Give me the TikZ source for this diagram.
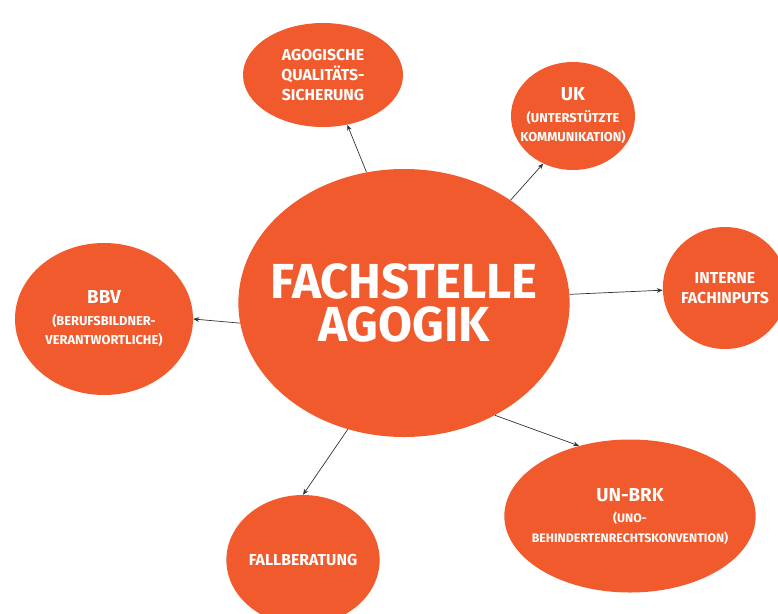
\documentclass[tikz,border=0pt]{standalone}
\usepackage{fontspec}
\setmainfont{Fira Sans}
\usetikzlibrary{shapes.geometric,arrows.meta}
\definecolor{agogik}{RGB}{240,90,44}
\newcommand{\titlefont}{\fontsize{16}{18}\selectfont}
\newcommand{\subfont}{\fontsize{11}{13.5}\selectfont}

\begin{document}
\begin{tikzpicture}[x=0.03cm,y=-0.03cm,
  bubble/.style={ellipse, fill=agogik, inner sep=0pt, text=white, align=center, font=\bfseries\fontsize{13.5}{17}\selectfont},
  link/.style={-{Stealth[length=5pt,width=4pt]}, line width=0.6pt, black!80}]

\useasboundingbox (0,0) rectangle (778,614);
\clip (0,0) rectangle (778,614);

\node[bubble, minimum width=9.72cm, minimum height=8.04cm, inner xsep=-14pt, font=\bfseries\fontsize{42}{36}\selectfont] (fachstelle) at (404,303) {FACHSTELLE\\AGOGIK};

\node[bubble, minimum width=4.8cm, minimum height=3.12cm] (quali) at (323,75) {AGOGISCHE\\QUALITÄTS-\\SICHERUNG};
\node[bubble, minimum width=3.72cm, minimum height=3.24cm, inner xsep=-8pt] (uk) at (573,116) {{\titlefont UK}\\[1pt]{\subfont (UNTERSTÜTZTE}\\{\subfont KOMMUNIKATION)}};
\node[bubble, minimum width=3.72cm, minimum height=3.66cm] (intern) at (725,288) {INTERNE\\FACHINPUTS};
\node[bubble, minimum width=5.34cm, minimum height=4.56cm] (bbv) at (104,319) {{\titlefont BBV}\\[1pt]{\subfont (BERUFSBILDNER-}\\{\subfont VERANTWORTLICHE)}};
\node[bubble, minimum width=7.5cm, minimum height=4.59cm, inner xsep=-8pt] (unbrk) at (630,516) {{\titlefont UN-BRK}\\[1pt]{\subfont\fontsize{10.5}{13.5}\selectfont (UNO-}\\{\subfont\fontsize{10.5}{13.5}\selectfont BEHINDERTENRECHTSKONVENTION)}};
\node[bubble, minimum width=4.38cm, minimum height=3.9cm] (fall) at (303,560) {FALLBERATUNG};

\draw[link] (fachstelle.106) -- (quali.-64);
\draw[link] (fachstelle.44) -- (uk.-122);
\draw[link] (fachstelle.3.5) -- (intern.182);
\draw[link] (fachstelle.187) -- (bbv.0);
\draw[link] (fachstelle.-51) -- (unbrk.126);
\draw[link] (fachstelle.-114) -- (fall.90);

\end{tikzpicture}
\end{document}
